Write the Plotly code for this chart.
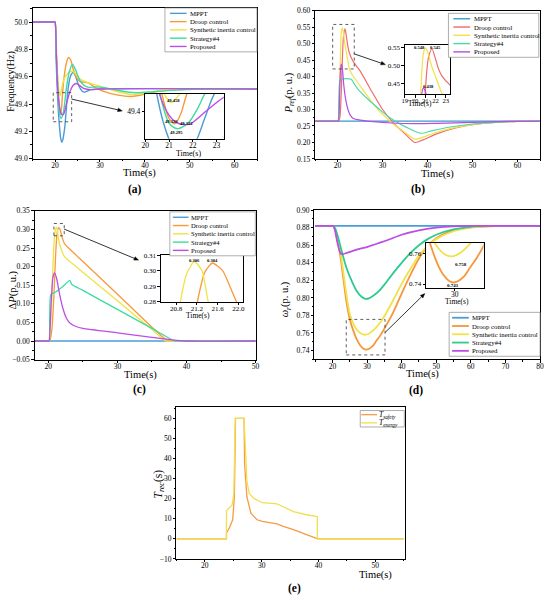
import math
import plotly.graph_objects as go

W, H = 550, 603
FONT = "Liberation Serif"

SERIES = ["MPPT", "Droop control", "Synthetic inertia control", "Strategy#4", "Proposed"]
COLORS_A = ["#4A9CD8", "#F79A3A", "#F0E246", "#3DDCA0", "#BB4FE3"]
COLORS_B = ["#3A9AC9", "#F26A6A", "#F2E246", "#4DD9AE", "#B44FE0"]
COLORS_D = ["#4A9CD8", "#F7963A", "#F0E24A", "#2DCB8E", "#BB4FE3"]
E_NAMES = ["<i>T</i><sub><i>safety</i></sub>", "<i>T</i><sub><i>energy</i></sub>"]
E_COLORS = ["#F59C45", "#F0E050"]

# ---------------- panel (a): frequency ----------------
a_t_mppt = [15, 19.9, 20, 20.25, 20.5, 20.75, 21.0, 21.25, 21.5, 21.75, 22.0, 22.2, 22.5, 22.9, 23.4, 24.0, 24.5, 25.0, 25.5, 26.0, 26.5, 27.0, 28.0, 30.0, 65]
a_mppt = [50.0, 50.0, 50.0, 49.72, 49.50, 49.34, 49.23, 49.15, 49.12, 49.14, 49.19, 49.24, 49.36, 49.51, 49.60, 49.63, 49.61, 49.56, 49.52, 49.495, 49.487, 49.492, 49.505, 49.51, 49.51]
a_t_droop = [15, 19.9, 20, 20.3, 20.7, 21.0, 21.25, 21.5, 21.75, 22.2, 22.6, 23.0, 23.5, 24.0, 24.5, 25.5, 26.5, 27.5, 29.0, 31.0, 34.0, 37.0, 40.0, 43.0, 47.0, 52.0, 65]
a_droop = [50.0, 50.0, 50.0, 49.76, 49.51, 49.36, 49.326, 49.39, 49.51, 49.64, 49.71, 49.74, 49.72, 49.66, 49.61, 49.565, 49.56, 49.553, 49.52, 49.49, 49.465, 49.455, 49.472, 49.493, 49.505, 49.51, 49.51]
a_t_syn = [15, 19.9, 20, 20.3, 20.55, 20.8, 21.1, 21.45, 21.8, 22.3, 23.0, 23.8, 24.5, 25.5, 27.0, 29.0, 31.0, 34.0, 37.0, 40.0, 43.0, 47.0, 65]
a_syn = [50.0, 50.0, 50.0, 49.8, 49.62, 49.51, 49.458, 49.51, 49.56, 49.6, 49.63, 49.64, 49.625, 49.585, 49.56, 49.54, 49.52, 49.49, 49.47, 49.478, 49.497, 49.508, 49.51]
a_t_s4 = [15, 19.9, 20, 20.3, 20.62, 21.0, 21.35, 21.8, 22.2, 22.5, 23.2, 23.9, 24.5, 25.5, 26.5, 27.5, 29.0, 31.0, 34.0, 38.0, 42.0, 46.0, 52.0, 65]
a_s4 = [50.0, 50.0, 50.0, 49.75, 49.51, 49.33, 49.295, 49.33, 49.42, 49.51, 49.64, 49.69, 49.655, 49.575, 49.535, 49.522, 49.525, 49.52, 49.5, 49.482, 49.49, 49.5, 49.51, 49.51]
a_t_prop = [15, 19.9, 20, 20.3, 20.6, 21.0, 21.3, 21.6, 21.9, 22.6, 23.3, 24.0, 24.7, 25.5, 26.5, 28.0, 30.0, 65]
a_prop = [50.0, 50.0, 50.0, 49.75, 49.51, 49.38, 49.335, 49.322, 49.326, 49.41, 49.49, 49.535, 49.55, 49.535, 49.512, 49.505, 49.51, 49.51]
a_labels = ["49.458", "49.326", "49.322", "49.295"]
a_label_t = [21.2, 21.12, 21.75, 21.3]
a_label_v = [49.47, 49.342, 49.327, 49.275]

# ---------------- panel (b): P_ref ----------------
b_t_mppt = [15, 65]
b_mppt = [0.265, 0.265]
b_t_droop = [15, 20.2, 20.3, 20.5, 20.75, 21.0, 21.3, 21.65, 21.95, 22.3, 22.6, 23.4, 24.4, 25.0, 27.5, 30.0, 32.5, 35.0, 37.2, 39.0, 42.0, 46.0, 50.0, 55.0, 60.0, 65]
b_droop = [0.265, 0.265, 0.265, 0.275, 0.33, 0.43, 0.52, 0.545, 0.522, 0.49, 0.472, 0.447, 0.428, 0.417, 0.357, 0.3, 0.258, 0.226, 0.2, 0.208, 0.226, 0.243, 0.254, 0.261, 0.264, 0.265]
b_t_syn = [15, 20.1, 20.2, 20.4, 20.6, 20.8, 21.0, 21.2, 21.6, 22.0, 22.7, 23.5, 25.0, 27.5, 30.0, 32.5, 35.0, 37.2, 39.0, 42.0, 46.0, 50.0, 55.0, 60.0, 65]
b_syn = [0.265, 0.265, 0.265, 0.33, 0.45, 0.53, 0.548, 0.54, 0.5, 0.47, 0.42, 0.4, 0.372, 0.325, 0.285, 0.255, 0.23, 0.21, 0.216, 0.231, 0.245, 0.254, 0.261, 0.264, 0.265]
b_t_s4 = [15, 20.0, 20.1, 20.3, 20.5, 20.7, 23.0, 23.6, 24.5, 27.0, 29.0, 31.0, 33.0, 35.0, 38.5, 41.0, 45.0, 50.0, 55.0, 60.0, 65]
b_s4 = [0.265, 0.265, 0.265, 0.35, 0.388, 0.392, 0.392, 0.38, 0.362, 0.328, 0.304, 0.281, 0.263, 0.248, 0.228, 0.236, 0.247, 0.256, 0.261, 0.264, 0.265]
b_t_prop = [15, 20.1, 20.2, 20.4, 20.6, 20.8, 21.0, 21.4, 21.8, 22.3, 22.8, 23.5, 25.0, 28.0, 32.0, 37.0, 42.0, 50.0, 58.0, 65]
b_prop = [0.265, 0.265, 0.265, 0.32, 0.41, 0.438, 0.43, 0.37, 0.33, 0.3, 0.283, 0.273, 0.268, 0.263, 0.259, 0.257, 0.258, 0.261, 0.264, 0.265]
b_labels = ["0.548", "0.545", "0.438"]
b_label_t = [20.45, 22.0, 21.3]
b_label_v = [0.549, 0.549, 0.443]

# ---------------- panel (c): delta P ----------------
c_t_mppt = [18, 50]
c_mppt = [0, 0]
c_t_droop = [18, 20.1, 20.2, 20.5, 20.8, 21.0, 21.21, 21.35, 21.5, 21.7, 21.97, 22.36, 25, 30, 35, 37.3, 38, 50]
c_droop = [0, 0, 0, 0.03, 0.12, 0.21, 0.28, 0.299, 0.305, 0.3, 0.28, 0.261, 0.214, 0.126, 0.037, 0.0, 0.0, 0.0]
c_t_syn = [18, 20.0, 20.1, 20.35, 20.6, 20.75, 20.88, 21.0, 21.15, 21.3, 21.42, 21.6, 22.0, 22.36, 25, 30, 35, 37.0, 38, 50]
c_syn = [0, 0, 0, 0.06, 0.17, 0.24, 0.28, 0.298, 0.306, 0.3, 0.28, 0.262, 0.24, 0.226, 0.185, 0.108, 0.031, 0.0, 0.0, 0.0]
c_t_s4 = [18, 20.1, 20.15, 20.35, 21.0, 22.0, 23.1, 23.4, 25, 30, 35, 38.3, 39, 50]
c_s4 = [0, 0, 0, 0.125, 0.131, 0.145, 0.163, 0.152, 0.136, 0.085, 0.034, 0.0, 0, 0]
c_t_prop = [18, 20.0, 20.1, 20.4, 20.65, 20.9, 21.2, 21.6, 22.1, 22.6, 23.2, 24.0, 25.0, 30.0, 35.0, 38.0, 40.0, 50]
c_prop = [0, 0, 0, 0.1, 0.17, 0.183, 0.168, 0.128, 0.088, 0.062, 0.047, 0.039, 0.034, 0.022, 0.01, 0.003, 0, 0]
c_labels = ["0.306", "0.304"]
c_label_t = [21.15, 21.5]
c_label_v = [0.3068, 0.3068]

# ---------------- panel (d): rotor speed ----------------
d_t_mppt = [15, 80]
d_mppt = [0.882, 0.882]
d_t_droop = [15, 20.2, 20.3, 20.8, 21.5, 22.5, 24, 25, 26, 27, 28, 29, 29.8, 30.6, 31.6, 32.6, 33.8, 35, 37.5, 40, 42.5, 45, 47.5, 50, 55, 60, 65, 70, 80]
d_droop = [0.882, 0.882, 0.882, 0.878, 0.866, 0.842, 0.797, 0.776, 0.763, 0.753, 0.746, 0.742, 0.741, 0.742, 0.745, 0.7505, 0.757, 0.765, 0.783, 0.805, 0.826, 0.845, 0.859, 0.868, 0.877, 0.8805, 0.8815, 0.882, 0.882]
d_t_syn = [15, 20.2, 20.3, 20.8, 21.5, 22.5, 24, 25, 26, 27, 28.2, 29.4, 30.6, 31.8, 33, 34, 35, 37.5, 40, 42.5, 45, 47.5, 50, 55, 60, 65, 70, 80]
d_syn = [0.882, 0.882, 0.882, 0.879, 0.869, 0.848, 0.805, 0.782, 0.771, 0.764, 0.7595, 0.758, 0.7595, 0.763, 0.768, 0.773, 0.779, 0.797, 0.816, 0.833, 0.848, 0.859, 0.867, 0.876, 0.88, 0.8815, 0.882, 0.882]
d_t_s4 = [15, 20.2, 20.3, 20.8, 21.5, 22.5, 24, 25.5, 27, 28.5, 29.5, 30.5, 32, 33.5, 35, 37.5, 40, 42.5, 45, 47.5, 50, 55, 60, 65, 80]
d_s4 = [0.882, 0.882, 0.882, 0.879, 0.871, 0.856, 0.835, 0.82, 0.808, 0.801, 0.799, 0.7995, 0.803, 0.808, 0.815, 0.828, 0.84, 0.851, 0.86, 0.867, 0.872, 0.878, 0.881, 0.882, 0.882]
d_t_prop = [15, 20.2, 20.3, 20.8, 21.5, 22.5, 24, 25.5, 27, 30, 33, 36, 40, 45, 50, 55, 60, 80]
d_prop = [0.882, 0.882, 0.882, 0.876, 0.862, 0.85, 0.851, 0.853, 0.855, 0.858, 0.862, 0.866, 0.872, 0.877, 0.88, 0.8815, 0.882, 0.882]
d_labels = ["0.758", "0.741"]
d_label_t = [31.0, 29.7]
d_label_v = [0.7525, 0.7393]

# ---------------- panel (e): recovery time ----------------
e_t_safety = [15, 23.8, 23.81, 24.3, 24.9, 25.2, 25.4, 26.9, 27.0, 27.4, 28.1, 29.2, 30.1, 31.5, 32.7, 33.8, 35.6, 37.9, 39.9, 55]
e_safety = [0, 0, 3, 5.4, 9.5, 21, 60, 60, 37, 21, 12.8, 9.5, 8.7, 7.9, 7.5, 6.2, 4.6, 2.1, 0, 0]
e_t_energy = [15, 23.8, 23.81, 24.3, 24.8, 25.1, 25.35, 26.9, 27.1, 27.4, 27.8, 28.7, 30.1, 31.5, 32.7, 33.8, 35.6, 37.9, 39.8, 39.81, 55]
e_energy = [0, 0, 14, 15.2, 16.9, 22.6, 60, 60, 45.6, 29, 22.6, 20, 18, 17.7, 17.4, 16, 13.6, 12, 11.1, 0, 0]


def dx(p0, p1):
    return [p0 / W, p1 / W]


def dy(p0, p1):
    return [1 - p1 / H, 1 - p0 / H]


def px(x):
    return x / W


def py(y):
    return 1 - y / H


def axis(domain, rng, anchor, dtick=None, tick0=None, fmt=None, minor=None, tickvals=None, size=7.5, standoff=0):
    d = dict(domain=domain, range=rng, anchor=anchor, showline=True, linecolor="black", linewidth=0.8,
             mirror=True, ticks="outside", ticklen=2.5, tickwidth=0.7, tickcolor="black",
             showgrid=False, zeroline=False, ticklabelstandoff=standoff,
             tickfont=dict(family=FONT, size=size, color="black"))
    if dtick is not None:
        d["dtick"] = dtick
    if tick0 is not None:
        d["tick0"] = tick0
    if fmt is not None:
        d["tickformat"] = fmt
    if tickvals is not None:
        d["tickvals"] = tickvals
    if minor is not None:
        d["minor"] = dict(ticks="outside", ticklen=1.5, tickwidth=0.6, tickcolor="black", dtick=minor, showgrid=False)
    return d


fig = go.Figure()


def add_series(ts, vs, colors, axes, width=1.4, shape="spline", smoothing=0.8):
    for ax_id in axes:
        for t, v, c in zip(ts, vs, colors):
            kw = dict(shape=shape, color=c, width=width)
            if shape == "spline":
                kw["smoothing"] = smoothing
            fig.add_trace(go.Scatter(x=t, y=v, mode="lines", line=kw, showlegend=False,
                                     hoverinfo="skip", xaxis="x" + ax_id, yaxis="y" + ax_id))


add_series([a_t_mppt, a_t_droop, a_t_syn, a_t_s4, a_t_prop], [a_mppt, a_droop, a_syn, a_s4, a_prop], COLORS_A, ["", "2"])
add_series([b_t_mppt, b_t_droop, b_t_syn, b_t_s4, b_t_prop], [b_mppt, b_droop, b_syn, b_s4, b_prop], COLORS_B, ["3", "4"], width=1.2)
add_series([c_t_mppt, c_t_droop, c_t_syn, c_t_s4, c_t_prop], [c_mppt, c_droop, c_syn, c_s4, c_prop], COLORS_A, ["5", "6"], width=1.3, smoothing=0.5)
add_series([d_t_mppt, d_t_droop, d_t_syn, d_t_s4, d_t_prop], [d_mppt, d_droop, d_syn, d_s4, d_prop], COLORS_D, ["7", "8"], width=1.8)
add_series([e_t_safety, e_t_energy], [e_safety, e_energy], E_COLORS, ["9"], width=1.3, shape="linear")

layout = dict(width=W, height=H, margin=dict(l=0, r=0, t=0, b=0), paper_bgcolor="white", plot_bgcolor="white",
              showlegend=False, font=dict(family=FONT, color="black"))

XS = -3  # pull x tick labels closer to the axis line
# panel (a)
layout["xaxis"] = axis(dx(29, 257), [15, 65], "y", dtick=10, minor=5, standoff=XS)
layout["yaxis"] = axis(dy(4, 157), [49.0, 50.103], "x", dtick=0.2, tick0=49.0, fmt=".1f", minor=0.1)
layout["xaxis2"] = axis(dx(143.3, 223), [20, 23.3], "y2", dtick=1, size=7.5, standoff=XS)
layout["yaxis2"] = axis(dy(91, 136.7), [49.234, 49.513], "x2", tickvals=[49.4], fmt=".1f", size=7.5)
# panel (b)
layout["xaxis3"] = axis(dx(315.7, 544), [15, 65], "y3", dtick=10, minor=5, standoff=XS)
layout["yaxis3"] = axis(dy(6.7, 157.3), [0.15, 0.60], "x3", dtick=0.05, tick0=0.15, fmt=".2f", minor=0.025)
layout["xaxis4"] = axis(dx(406.7, 452.7), [19, 23.42], "y4", dtick=1, size=6.6, standoff=XS)
layout["yaxis4"] = axis(dy(42, 91.7), [0.421, 0.555], "x4", tickvals=[0.45, 0.50, 0.55], fmt=".2f", size=7)
# panel (c)
layout["xaxis5"] = axis(dx(31, 256), [18, 50.1], "y5", dtick=10, tick0=0, minor=5, standoff=XS)
layout["yaxis5"] = axis(dy(210, 361), [-0.05, 0.35], "x5", dtick=0.05, tick0=0, fmt=".2f", minor=0.025)
layout["xaxis6"] = axis(dx(159, 243), [20.5, 22.1], "y6", tickvals=[20.8, 21.2, 21.6, 22.0], fmt=".1f", size=7, standoff=XS)
layout["yaxis6"] = axis(dy(255, 302.5), [0.28, 0.31], "x6", tickvals=[0.28, 0.29, 0.30, 0.31], fmt=".2f", size=7)
# panel (d)
layout["xaxis7"] = axis(dx(315, 544), [14.8, 80], "y7", dtick=10, tick0=0, minor=5, standoff=XS)
layout["yaxis7"] = axis(dy(209.3, 360.7), [0.73, 0.90], "x7", dtick=0.02, tick0=0.74, fmt=".2f", minor=0.01)
layout["xaxis8"] = axis(dx(428.3, 486.7), [25, 35], "y8", tickvals=[30], size=7.5, standoff=XS)
layout["yaxis8"] = axis(dy(242.3, 288.3), [0.7374, 0.767], "x8", tickvals=[0.74, 0.76], fmt=".2f", size=7)
# panel (e)
layout["xaxis9"] = axis(dx(175, 406.7), [15, 55.2], "y9", dtick=10, tick0=0, minor=5, standoff=XS)
layout["yaxis9"] = axis(dy(409.3, 563.3), [-10, 65.6], "x9", dtick=10, tick0=0, minor=5)

ann = []
shapes = []


def text(x, y, s, size=10.5, angle=0, anchor="center"):
    ann.append(dict(x=px(x), y=py(y), xref="paper", yref="paper", text=s, showarrow=False, textangle=angle,
                    font=dict(family=FONT, size=size, color="black"), xanchor=anchor, yanchor="middle"))


# axis titles
text(7, 78, "Frequency(Hz)", 10, -90)
text(138, 172, "Time(s)", 10.5)
text(290, 90, "<i>P</i><sub><i>ref</i></sub>(p. u.)", 10.5, -90)
text(440, 172.5, "Time(s)", 10.5)
text(9, 290, "Δ<i>P</i>(p. u.)", 10.5, -90)
text(139, 376.5, "Time(s)", 10.5)
text(286, 300, "<i>ω</i><sub><i>r</i></sub>(p. u.)", 10.5, -90)
text(425, 376, "Time(s)", 10.5)
text(157, 487, "<i>T</i><sub><i>rec</i></sub>(s)", 11.5, -90)
text(377, 580, "Time(s)", 10.5)
# inset titles
text(187, 151.5, "Time(s)", 8)
text(422, 101.5, "Time(s)", 7.5)
text(197, 316.5, "Time(s)", 7.5)
text(460, 302.5, "Time(s)", 7.5)
# panel labels
text(133, 188.5, "<b>(a)</b>", 11.5)
text(420, 188.5, "<b>(b)</b>", 11.5)
text(137, 391, "<b>(c)</b>", 11.5)
text(418, 392, "<b>(d)</b>", 11.5)
text(295, 593, "<b>(e)</b>", 11.5)


def value_labels(labels, ts, vs, axid, size=4.6):
    for s, t, v in zip(labels, ts, vs):
        ann.append(dict(x=t, y=v, xref="x" + axid, yref="y" + axid, text="<b>" + s + "</b>", showarrow=False,
                        font=dict(family=FONT, size=size, color="black"), xanchor="center", yanchor="middle"))


value_labels(a_labels, a_label_t, a_label_v, "2")
value_labels(b_labels, b_label_t, b_label_v, "4")
value_labels(c_labels, c_label_t, c_label_v, "6")
value_labels(d_labels, d_label_t, d_label_v, "8", 5)


def arrow(tx, ty, hx, hy, head=4.5, half=1.8):
    L = math.hypot(hx - tx, hy - ty)
    ux, uy = (hx - tx) / L, (hy - ty) / L
    bx, by = hx - ux * head, hy - uy * head
    shapes.append(dict(type="line", xref="paper", yref="paper", x0=px(tx), y0=py(ty), x1=px(bx), y1=py(by),
                       line=dict(color="black", width=0.8), layer="above"))
    p1 = (bx - uy * half, by + ux * half)
    p2 = (bx + uy * half, by - ux * half)
    path = "M {:.5f},{:.5f} L {:.5f},{:.5f} L {:.5f},{:.5f} Z".format(px(hx), py(hy), px(p1[0]), py(p1[1]), px(p2[0]), py(p2[1]))
    shapes.append(dict(type="path", xref="paper", yref="paper", path=path, fillcolor="black",
                       line=dict(color="black", width=0.5), layer="above"))


arrow(68.5, 96.5, 120, 108.5)
arrow(355, 50.5, 387, 61.5)
arrow(61, 228.5, 136.5, 260)
arrow(386.7, 333.5, 427, 294)


def dash_rect(axid, x0, x1, y0, y1):
    shapes.append(dict(type="rect", xref="x" + axid, yref="y" + axid, x0=x0, x1=x1, y0=y0, y1=y1,
                       line=dict(color="#333333", width=0.8, dash="dot"), layer="above"))


dash_rect("", 19.6, 23.7, 49.27, 49.483)
dash_rect("3", 18.9, 23.7, 0.423, 0.558)
dash_rect("5", 20.8, 22.3, 0.283, 0.316)
dash_rect("7", 24.0, 35.2, 0.735, 0.7755)


def legend(x0, y0, x1, names, colors, dyrow=8.4, pad=5.5, size=6.8, lw=1.4, s0=5, s1=22, tx=23.5):
    y1 = y0 + pad * 2 + dyrow * (len(names) - 1)
    shapes.append(dict(type="rect", xref="paper", yref="paper", x0=px(x0), x1=px(x1), y0=py(y1), y1=py(y0),
                       line=dict(color="#8a8a8a", width=0.7), fillcolor="white", layer="above"))
    for i, (n, c) in enumerate(zip(names, colors)):
        yy = y0 + pad + i * dyrow
        shapes.append(dict(type="line", xref="paper", yref="paper", x0=px(x0 + s0), x1=px(x0 + s1), y0=py(yy),
                           y1=py(yy), line=dict(color=c, width=lw), layer="above"))
        ann.append(dict(x=px(x0 + tx), y=py(yy), xref="paper", yref="paper", text=n, showarrow=False,
                        font=dict(family=FONT, size=size, color="black"), xanchor="left", yanchor="middle"))


legend(163.3, 4, 256.7, SERIES, COLORS_A)
legend(451, 9.5, 542.7, SERIES, COLORS_B)
legend(168.3, 211, 255, SERIES, COLORS_A, size=6.6, s0=3, s1=19, tx=19.5)
legend(451.7, 313, 544, SERIES, COLORS_D, lw=1.8, s0=3, s1=20, tx=21.5)
legend(361.5, 412.7, 406.2, E_NAMES, E_COLORS, dyrow=8.3, pad=4.2, size=7.5, lw=1.3, s0=1, s1=17, tx=17.5)

layout["annotations"] = ann
layout["shapes"] = shapes
fig.update_layout(**layout)
fig.write_html("out.html", config={"displayModeBar": False},
               post_script="document.body.style.margin='0';document.body.style.overflow='hidden';")
